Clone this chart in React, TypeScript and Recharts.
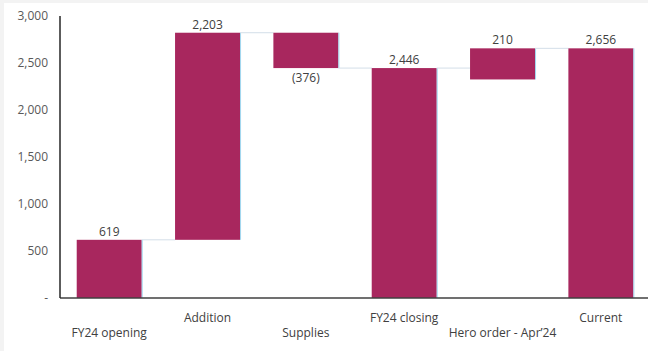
import { ComposedChart, Bar, XAxis, YAxis, LabelList } from 'recharts'

const categories = ['FY24 opening', 'Addition', 'Supplies', 'FY24 closing', 'Hero order - Apr’24', 'Current']
const labelValues = [619, 2203, -376, 2446, 210, 2656]
// bars float: invisible base + visible part (as drawn in the picture)
const barBase = [0, 619, 2446, 0, 2325, 0]
const barSpan = [619, 2203, 376, 2446, 331, 2656]
// running total after each step, where the connector runs to the next bar
const connectorLevel = [619, 2822, 2446, 2446, 2656, null]
const yTicks = [0, 500, 1000, 1500, 2000, 2500, 3000]

const BAR_COLOR = '#A8275E'
const LINE_COLOR = '#d3dee8'
const GAP = 0.17
const FONT = '"Open Sans", "Noto Sans", sans-serif'

const data = categories.map((name, i) => ({
  name,
  base: barBase[i],
  span: barSpan[i],
  label: labelValues[i],
  level: connectorLevel[i],
}))

function fmtTick(v: number): string {
  if (v === 0) return '-'
  return v.toLocaleString('en-US')
}

function fmtLabel(v: number): string {
  if (v < 0) return `(${Math.abs(v).toLocaleString('en-US')})`
  return v.toLocaleString('en-US')
}

function StepBar(props: any) {
  const { x, y, width, height, payload } = props
  const bottom = y + height
  const gap = (width * 2 * GAP) / (1 - 2 * GAP)
  let connector = null
  if (payload.level != null) {
    const ly = bottom - ((payload.level - payload.base) * height) / payload.span
    connector = (
      <line x1={x + width} x2={x + width + gap} y1={ly} y2={ly} stroke={LINE_COLOR} strokeWidth={1} />
    )
  }
  return (
    <g>
      <rect x={x} y={y} width={width} height={height} fill={BAR_COLOR} />
      <line x1={x + width + 0.5} x2={x + width + 0.5} y1={y} y2={bottom} stroke="#9fd6ee" strokeWidth={1} />
      {connector}
    </g>
  )
}

function BarLabel(props: any) {
  const { x, y, width, height, value } = props
  const cx = x + width / 2
  const ty = value < 0 ? y + height + 14 : y - 4
  return (
    <text x={cx} y={ty} textAnchor="middle" fontSize={12} fill="#404040" fontFamily={FONT}>
      {fmtLabel(value)}
    </text>
  )
}

function CategoryTick(props: any) {
  const { x, y, payload, index } = props
  const dy = index % 2 === 0 ? 39 : 24
  return (
    <text x={x} y={y + dy} textAnchor="middle" fontSize={12} fill="#404040" fontFamily={FONT}>
      {payload.value}
    </text>
  )
}

export default function App() {
  return (
    <div
      style={{
        position: 'absolute',
        left: 0,
        top: 0,
        width: 648,
        height: 351,
        overflow: 'hidden',
        background: '#f3f3f3',
      }}
    >
      <div style={{ position: 'absolute', left: 4, top: 3, background: '#fff', width: 646, height: 348 }}>
        <ComposedChart
          width={646}
          height={348}
          data={data}
          margin={{ top: 13, right: 0, bottom: 3, left: 0 }}
          barCategoryGap={`${GAP * 100}%`}
        >
          <XAxis
            dataKey="name"
            axisLine={{ stroke: '#404040', strokeWidth: 1.5 }}
            tickLine={false}
            tickSize={0}
            tickMargin={0}
            height={50}
            interval={0}
            tick={<CategoryTick />}
          />
          <YAxis
            domain={[0, 3000]}
            ticks={yTicks}
            width={56}
            axisLine={{ stroke: '#262626', strokeWidth: 1.5 }}
            tickLine={false}
            tickSize={6}
            tickMargin={6}
            tickFormatter={fmtTick}
            tick={{ fontSize: 12, fill: '#595959', fontFamily: FONT }}
          />
          <Bar dataKey="base" stackId="w" fill="transparent" isAnimationActive={false} />
          <Bar dataKey="span" stackId="w" shape={<StepBar />} isAnimationActive={false}>
            <LabelList dataKey="label" content={<BarLabel />} />
          </Bar>
        </ComposedChart>
      </div>
    </div>
  )
}
